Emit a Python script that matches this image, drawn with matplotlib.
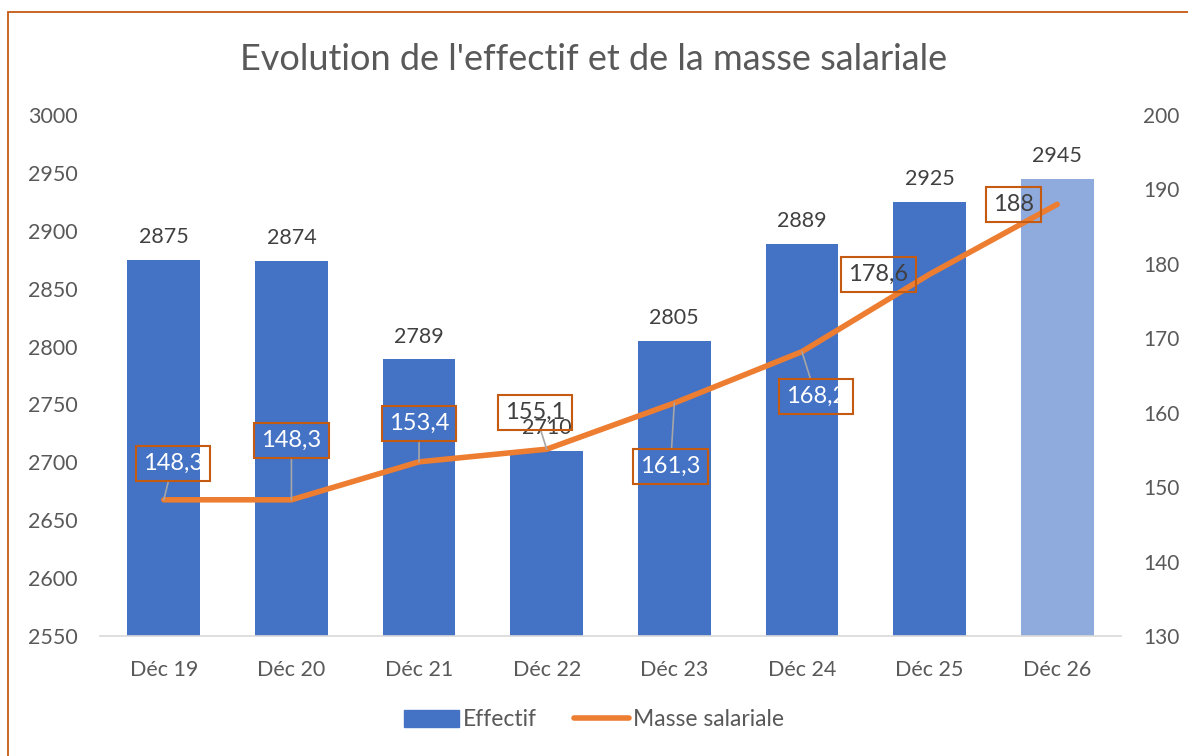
import numpy as np
import matplotlib.pyplot as plt
from matplotlib.patches import Rectangle, Patch
from matplotlib.lines import Line2D

plt.rcParams['font.family'] = ['Lato', 'DejaVu Sans']

categories = ["Déc 19", "Déc 20", "Déc 21", "Déc 22", "Déc 23", "Déc 24", "Déc 25", "Déc 26"]
effectif = [2875, 2874, 2789, 2710, 2805, 2889, 2925, 2945]
masse = [148.3, 148.3, 153.4, 155.1, 161.3, 168.2, 178.6, 188]
masse_labels = ["148,3", "148,3", "153,4", "155,1", "161,3", "168,2", "178,6", "188"]

# label placement (x in category units, y in right-axis units), text colour, leader line
lab_pos = [(0.07, 153.2), (1.0, 156.3), (2.0, 158.6), (2.91, 160.0),
           (3.97, 152.8), (5.11, 162.2), (5.6, 178.6), (6.66, 188.0)]
lab_col = ['white', 'white', 'white', '#404040', 'white', 'white', '#404040', '#404040']
leader = [True, True, True, True, True, True, False, False]

blue = '#4472C4'
light_blue = '#8FAADC'
orange = '#ED7D31'
box_col = '#C55A11'
grey_txt = '#595959'

fig = plt.figure(figsize=(11.88, 7.56), dpi=100)
ax = fig.add_axes([100/1188, 1-636/756, 1021/1188, 521/756])
x = np.arange(len(categories))
cols = [blue]*(len(categories)-1) + [light_blue]
ax.bar(x, effectif, width=0.57, color=cols, zorder=2)
ax.set_ylim(2550, 3000)
ax.set_xlim(-0.5, len(categories)-0.5)
ax.set_yticks(np.arange(2550, 3001, 50))
ax.set_xticks(x)
ax.set_xticklabels(categories)
for s in ['top', 'right', 'left']:
    ax.spines[s].set_visible(False)
ax.spines['bottom'].set_color('#D9D9D9')
ax.spines['bottom'].set_linewidth(1.2)
ax.tick_params(axis='both', length=0, labelsize=15.5, labelcolor=grey_txt)
ax.tick_params(axis='x', pad=17)
ax.tick_params(axis='y', pad=52)
for t in ax.get_yticklabels():
    t.set_horizontalalignment('left')

for xi, v in zip(x, effectif):
    ax.annotate(str(v), (xi, v), xytext=(0, 9), textcoords='offset points',
                ha='center', va='bottom', fontsize=15.5, color='#404040')

ax2 = ax.twinx()
ax2.plot(x, masse, color=orange, lw=4, solid_capstyle='round', solid_joinstyle='round', zorder=3)
ax2.set_ylim(130, 200)
ax2.set_yticks(np.arange(130, 201, 10))
for s in ['top', 'right', 'left', 'bottom']:
    ax2.spines[s].set_visible(False)
ax2.tick_params(axis='y', length=0, labelsize=15, labelcolor=grey_txt, pad=16)

for xi, v, lab, (lx, ly), c, ld in zip(x, masse, masse_labels, lab_pos, lab_col, leader):
    arrow = dict(arrowstyle='-', color='#A6A6A6', lw=1.2, shrinkA=0, shrinkB=0) if ld else None
    ax2.annotate(lab, (xi, v), xytext=(lx, ly), textcoords='data',
                 ha='center', va='center', fontsize=17, color=c, zorder=4,
                 bbox=dict(boxstyle='square,pad=0.3', fc='none', ec=box_col, lw=1.5),
                 arrowprops=arrow)

fig.text(0.5, 1-60/756, "Evolution de l'effectif et de la masse salariale",
         ha='center', va='center', fontsize=26, color=grey_txt)

handles = [Patch(color=blue, label='Effectif'),
           Line2D([], [], color=orange, lw=4, solid_capstyle='round', label='Masse salariale')]
fig.legend(handles=handles, loc='center', bbox_to_anchor=(0.5, 1-720/756), ncol=2,
           frameon=False, fontsize=16.5, labelcolor=grey_txt, handlelength=2.4,
           handletextpad=0.2, columnspacing=1.6)

fig.patches.append(Rectangle((8/1188, -0.1), 1.2, 1-12/756+0.1, transform=fig.transFigure,
                             fill=False, ec=box_col, lw=1.3))

fig.savefig('out.png', dpi=100)
